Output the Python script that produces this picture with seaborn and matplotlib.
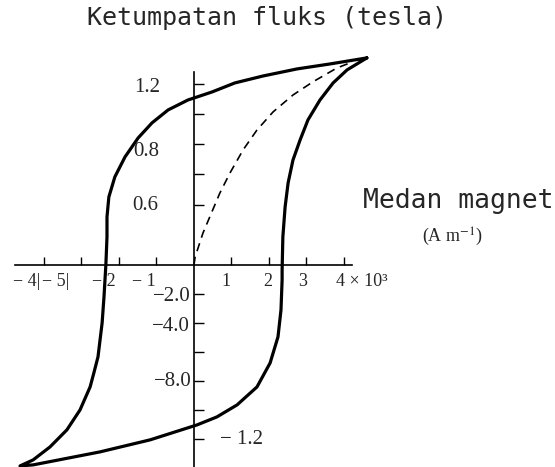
import numpy as np
import pandas as pd
import seaborn as sns
import matplotlib.pyplot as plt

sns.set_theme(style="white")
plt.rcParams['font.family'] = ['Liberation Serif', 'DejaVu Serif']
plt.rcParams['mathtext.fontset'] = 'stix'

# hysteresis loop (H in 10^3 A/m, B in tesla)
# descending branch: +saturation -> -saturation
h_down = [4.61, 3.63, 2.75, 1.84, 1.09, 0.48, -0.16, -0.69, -1.12, -1.49, -1.84,
          -2.11, -2.27, -2.32, -2.32, -2.35, -2.40, -2.45, -2.56, -2.67, -2.77,
          -3.04, -3.39, -3.84, -4.29, -4.64]
b_down = [1.373, 1.333, 1.300, 1.253, 1.207, 1.147, 1.094, 1.028, 0.942, 0.842, 0.716,
          0.584, 0.451, 0.318, 0.186, 0.0, -0.212, -0.385, -0.610, -0.716, -0.809,
          -0.962, -1.094, -1.207, -1.293, -1.333]
# ascending branch: -saturation -> +saturation
h_up = [-4.64, -4.29, -2.51, -1.17, 0.08, 0.61, 1.15, 1.68, 2.03, 2.24, 2.32,
        2.35, 2.35, 2.37, 2.43, 2.51, 2.64, 2.83, 3.04, 3.36, 3.71, 4.08, 4.61]
b_up = [-1.333, -1.326, -1.240, -1.160, -1.061, -1.008, -0.928, -0.809, -0.650, -0.477, -0.298,
        -0.099, -0.033, 0.186, 0.385, 0.544, 0.696, 0.829, 0.962, 1.094, 1.207, 1.293, 1.373]
# initial magnetisation curve (dashed)
h_init = [0.0, 0.03, 0.24, 0.69, 0.96, 1.31, 1.68, 2.11, 2.64, 3.17, 3.81, 4.16]
b_init = [0.0, 0.053, 0.212, 0.477, 0.610, 0.763, 0.895, 1.015, 1.127, 1.214, 1.306, 1.340]

x_ticks = [-4, -3, -2, -1, 1, 2, 3, 4]
y_ticks_pos = [0.4, 0.6, 0.8, 1.0, 1.2]
y_ticks_neg = [-0.192, -0.384, -0.576, -0.768, -0.96, -1.152]

loop = pd.DataFrame({"H": h_down + h_up[1:], "B": b_down + b_up[1:]})
init = pd.DataFrame({"H": h_init, "B": b_init})

fig = plt.figure(figsize=(5.55, 4.67), dpi=100)
ax = fig.add_axes([0, 0, 1, 1])
ax.set_xlim(-5.173, 9.627)
ax.set_ylim(-1.34, 1.757)

sns.lineplot(data=loop, x="H", y="B", sort=False, estimator=None, color="black",
             lw=2.3, ax=ax)
sns.lineplot(data=init, x="H", y="B", sort=False, estimator=None, color="black",
             lw=1.2, linestyle=(0, (5, 3.5)), ax=ax)

# axes through the origin
for s in ["top", "right"]:
    ax.spines[s].set_visible(False)
ax.spines["left"].set_position(("data", 0))
ax.spines["bottom"].set_position(("data", 0))
ax.spines["left"].set_bounds(-1.34, 1.28)
ax.spines["bottom"].set_bounds(-4.77, 4.21)
for s in ["left", "bottom"]:
    ax.spines[s].set_color("black")
    ax.spines[s].set_linewidth(1.2)
ax.set_xticks(x_ticks)
ax.set_yticks(y_ticks_pos + y_ticks_neg)
ax.tick_params(axis="x", direction="in", length=6, width=1, colors="black",
               labelbottom=False, bottom=True)
ax.tick_params(axis="y", direction="in", length=7, width=1, colors="black",
               labelleft=False, left=True)
ax.set_xlabel("")
ax.set_ylabel("")

# tick labels as in the original drawing
ax.text(-1.25, 1.174, "1.2", fontsize=15, ha="center", va="center")
ax.text(-1.28, 0.749, "0.8", fontsize=15, ha="center", va="center")
ax.text(-1.31, 0.391, "0.6", fontsize=15, ha="center", va="center")
ax.text(-0.08, -0.206, "−2.0", fontsize=15, ha="right", va="center")
ax.text(-0.107, -0.405, "−4.0", fontsize=15, ha="right", va="center")
ax.text(-0.053, -0.776, "−8.0", fontsize=15, ha="right", va="center")
ax.text(0.69, -1.16, "− 1.2", fontsize=15, ha="left", va="center")

ax.text(0.85, -0.113, "1", fontsize=13, ha="center", va="center")
ax.text(1.97, -0.113, "2", fontsize=13, ha="center", va="center")
ax.text(2.91, -0.113, "3", fontsize=13, ha="center", va="center")
ax.text(3.79, -0.113, "4 × 10³", fontsize=13, ha="left", va="center")
ax.text(-4.83, -0.113, "− 4|", fontsize=13, ha="left", va="center")
ax.text(-4.05, -0.113, "− 5|", fontsize=13, ha="left", va="center")
ax.text(-2.4, -0.113, "− 2", fontsize=13, ha="center", va="center")
ax.text(-1.33, -0.113, "− 1", fontsize=13, ha="center", va="center")

# axis titles
ax.text(0.481, 0.961, "Ketumpatan fluks (tesla)", transform=ax.transAxes,
        family="DejaVu Sans Mono", fontsize=18, ha="center", va="center")
ax.text(0.654, 0.570, "Medan magnet", transform=ax.transAxes,
        family="DejaVu Sans Mono", fontsize=19, ha="left", va="center")
ax.text(0.815, 0.4925, r"(A m$^{-1}$)", transform=ax.transAxes,
        fontsize=13, ha="center", va="center")

plt.savefig("out.png", dpi=100)
